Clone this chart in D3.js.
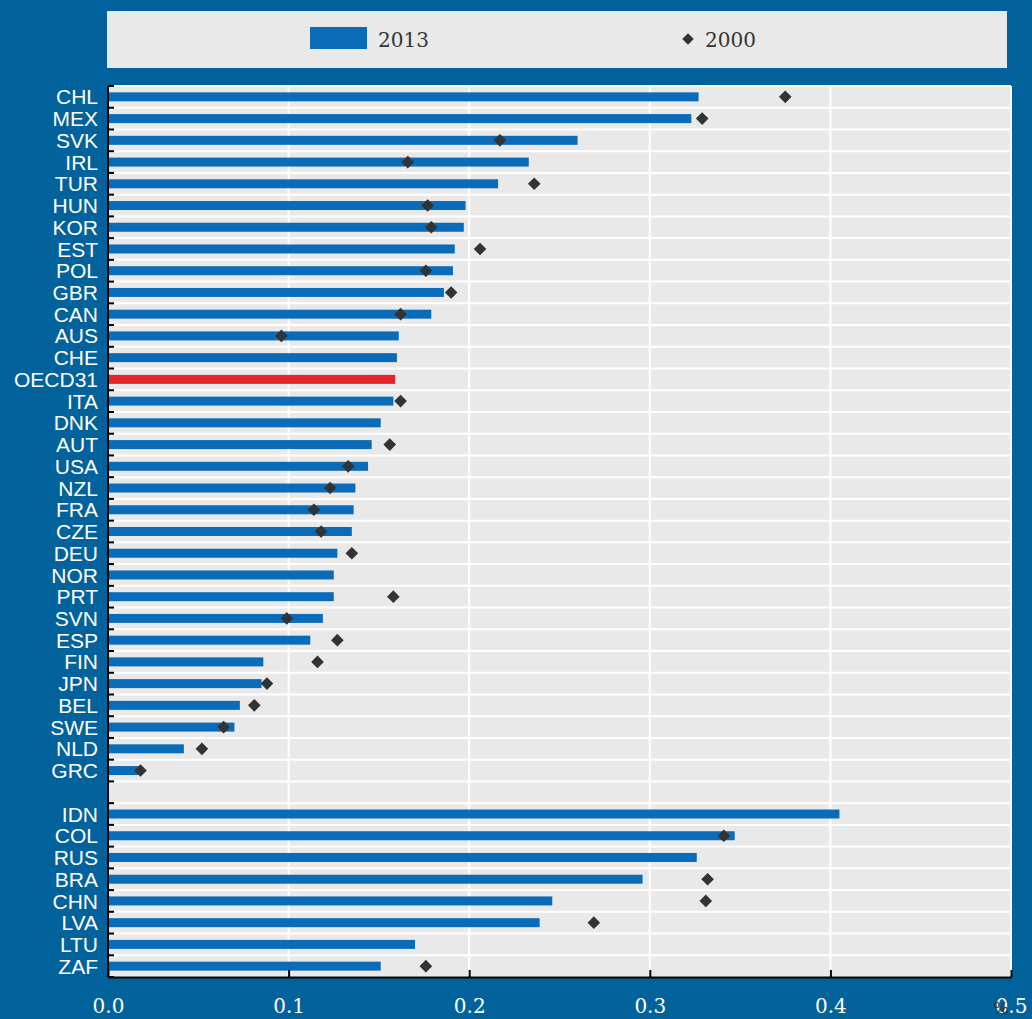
<!DOCTYPE html>
<html>
<head>
<meta charset="utf-8">
<script src="https://cdn.jsdelivr.net/npm/d3@7"></script>
<style>
  html, body { margin: 0; padding: 0; background: #02629b; }
  svg { display: block; }
</style>
</head>
<body>
<svg id="chart" width="1032" height="1019"></svg>
<script>
const categories = ["CHL","MEX","SVK","IRL","TUR","HUN","KOR","EST","POL","GBR","CAN","AUS","CHE","OECD31","ITA","DNK","AUT","USA","NZL","FRA","CZE","DEU","NOR","PRT","SVN","ESP","FIN","JPN","BEL","SWE","NLD","GRC"," ","IDN","COL","RUS","BRA","CHN","LVA","LTU","ZAF"];
const values2013 = [0.327,0.323,0.260,0.233,0.216,0.198,0.197,0.192,0.191,0.186,0.179,0.161,0.160,0.159,0.158,0.151,0.146,0.144,0.137,0.136,0.135,0.127,0.125,0.125,0.119,0.112,0.086,0.085,0.073,0.070,0.042,0.017,null,0.405,0.347,0.326,0.296,0.246,0.239,0.170,0.151];
const values2000 = [0.375,0.329,0.217,0.166,0.236,0.177,0.179,0.206,0.176,0.190,0.162,0.096,null,null,0.162,null,0.156,0.133,0.123,0.114,0.118,0.135,null,0.158,0.099,0.127,0.116,0.088,0.081,0.064,0.052,0.018,null,null,0.341,null,0.332,0.331,0.269,null,0.176];
const highlight = "OECD31";
const xTickValues = [0, 0.1, 0.2, 0.3, 0.4, 0.5];
const xTickLabels = ["0.0", "0.1", "0.2", "0.3", "0.4", "0.5"];
const unitLabel = "%";
const legendLabels = ["2013", "2000"];

(function () {
const BG = "#02629b", PANEL = "#e9e9e9", BAR = "#0a6cb8", RED = "#e3242b", DOT = "#333333";
const svg = d3.select("#chart");
svg.append("rect").attr("width", 1032).attr("height", 1019).attr("fill", BG);

const pL = 108, pR = 1011, pT = 86, pB = 977;
const x = d3.scaleLinear().domain([0, 0.5]).range([pL, pR]);
const y = d3.scaleBand().domain(categories).range([pT, pB]).padding(0);

svg.append("rect").attr("x", pL).attr("y", pT).attr("width", pR - pL).attr("height", pB - pT).attr("fill", PANEL);

const bounds = categories.map(c => y(c)).concat([pB]);
svg.append("g").selectAll("line").data(bounds).join("line")
  .attr("x1", pL).attr("x2", pR).attr("y1", d => d).attr("y2", d => d)
  .attr("stroke", "#ffffff").attr("stroke-width", 2);
svg.append("g").selectAll("line").data(xTickValues.slice(1)).join("line")
  .attr("x1", d => x(d)).attr("x2", d => x(d)).attr("y1", pT).attr("y2", pB)
  .attr("stroke", "#ffffff").attr("stroke-width", 2);

const rows = categories.map((c, i) => ({c, v13: values2013[i], v00: values2000[i]}));
const bh = 9;
svg.append("g").selectAll("rect").data(rows.filter(d => d.v13 != null)).join("rect")
  .attr("x", x(0)).attr("y", d => y(d.c) + y.bandwidth() / 2 - bh / 2)
  .attr("width", d => x(d.v13) - x(0)).attr("height", bh)
  .attr("fill", d => d.c === highlight ? RED : BAR);

const diamond = d3.symbol().type(d3.symbolSquare).size(80);
svg.append("g").selectAll("path").data(rows.filter(d => d.v00 != null)).join("path")
  .attr("d", diamond)
  .attr("transform", d => `translate(${x(d.v00)},${y(d.c) + y.bandwidth() / 2}) rotate(45)`)
  .attr("fill", DOT);

svg.append("line").attr("x1", pL).attr("x2", pL).attr("y1", pT).attr("y2", pB).attr("stroke", "#000").attr("stroke-width", 2);
svg.append("g").selectAll("line").data(bounds).join("line")
  .attr("x1", pL).attr("x2", pL + 6).attr("y1", d => d).attr("y2", d => d)
  .attr("stroke", "#000").attr("stroke-width", 2);

const yAxis = d3.axisLeft(y).tickSize(0).tickPadding(0);
const gy = svg.append("g").attr("transform", `translate(${pL - 10},0)`).call(yAxis);
gy.select(".domain").remove();
gy.selectAll("text").attr("fill", "#ffffff").attr("font-family", "'Liberation Sans', Arial, sans-serif").attr("font-size", 21).attr("dy", "0.36em");

const xAxis = d3.axisBottom(x).tickValues(xTickValues).tickFormat((d, i) => xTickLabels[i]).tickSizeInner(-7).tickSizeOuter(0).tickPadding(22);
const gx = svg.append("g").attr("transform", `translate(0,${pB})`).call(xAxis);
gx.select(".domain").attr("stroke", "#000").attr("stroke-width", 2);
gx.selectAll(".tick line").attr("stroke", "#000").attr("stroke-width", 2);
gx.selectAll("text").attr("fill", "#ffffff").attr("font-family", "'DejaVu Serif', Georgia, serif").attr("font-size", 20);
svg.append("text").attr("x", 1001).attr("y", 1014).attr("text-anchor", "middle")
  .attr("font-family", "'DejaVu Serif', Georgia, serif").attr("font-size", 17).attr("fill", "#333").text(unitLabel);

const lg = svg.append("g");
lg.append("rect").attr("x", 107).attr("y", 11).attr("width", 900).attr("height", 57).attr("fill", PANEL);
lg.append("rect").attr("x", 310).attr("y", 27).attr("width", 57).attr("height", 22).attr("fill", BAR);
lg.append("text").attr("x", 378).attr("y", 47).attr("font-family", "'DejaVu Serif', Georgia, serif").attr("font-size", 20).attr("fill", "#333").text(legendLabels[0]);
lg.append("path").attr("d", d3.symbol().type(d3.symbolSquare).size(66)).attr("transform", "translate(688,39) rotate(45)").attr("fill", DOT);
lg.append("text").attr("x", 705).attr("y", 47).attr("font-family", "'DejaVu Serif', Georgia, serif").attr("font-size", 20).attr("fill", "#333").text(legendLabels[1]);
})();
</script>
</body>
</html>
